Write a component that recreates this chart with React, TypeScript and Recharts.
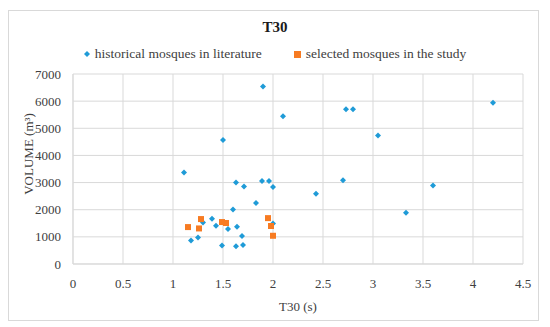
import React from 'react';
import {
  ScatterChart,
  Scatter,
  XAxis,
  YAxis,
  CartesianGrid,
  Label,
} from 'recharts';

// T30 (s) / volume (m³)
const historicalT30 = [
  1.9, 2.1, 1.5, 1.11, 1.63, 1.71, 1.89, 1.96, 2.0, 1.83, 1.6, 1.39, 1.3, 1.43, 1.55, 1.64,
  2.0, 1.69, 1.18, 1.25, 1.49, 1.63, 1.7, 2.73, 2.8, 3.05, 4.2, 2.7, 2.43, 3.6, 3.33,
];
const historicalVolume = [
  6540, 5440, 4570, 3370, 3000, 2855, 3060, 3060, 2840, 2245, 2010, 1665, 1530, 1410, 1290, 1370,
  1490, 1030, 870, 980, 685, 650, 700, 5700, 5700, 4730, 5940, 3090, 2585, 2890, 1890,
];

const selectedT30 = [1.15, 1.28, 1.26, 1.49, 1.53, 1.95, 1.98, 2.0];
const selectedVolume = [1360, 1655, 1310, 1545, 1510, 1690, 1400, 1040];

const xTicks = [0, 0.5, 1, 1.5, 2, 2.5, 3, 3.5, 4, 4.5];
const yTicks = [0, 1000, 2000, 3000, 4000, 5000, 6000, 7000];

const BLUE = '#1F9BD7';
const ORANGE = '#F77B22';
const GRID = '#D9D9D9';
const TEXT = '#404040';
const FONT = '"Liberation Serif", serif';

const historical = historicalT30.map((x, i) => ({ x, y: historicalVolume[i] }));
const selected = selectedT30.map((x, i) => ({ x, y: selectedVolume[i] }));

const Diamond = (props: any) => {
  const { cx, cy } = props;
  const r = 3;
  return (
    <path
      d={`M${cx},${cy - r}L${cx + r},${cy}L${cx},${cy + r}L${cx - r},${cy}Z`}
      fill={BLUE}
    />
  );
};

const Square = (props: any) => {
  const { cx, cy } = props;
  const s = 6;
  return <rect x={cx - s / 2} y={cy - s / 2} width={s} height={s} fill={ORANGE} />;
};

const tickStyle = { fill: TEXT, fontSize: 13, fontFamily: FONT };

// y label sits a bit above the plot's middle, like the original
const YLabel = (props: any) => {
  const { viewBox } = props;
  const x = 28;
  const y = viewBox.y + viewBox.height / 2 - 15;
  return (
    <text
      x={x}
      y={y}
      transform={`rotate(-90, ${x}, ${y})`}
      textAnchor="middle"
      dominantBaseline="central"
      style={{ fill: TEXT, fontSize: 13, fontFamily: FONT }}
    >
      VOLUME (m³)
    </text>
  );
};

export default function App() {
  return (
    <div
      style={{
        position: 'fixed',
        left: 0,
        top: 0,
        width: 550,
        height: 327,
        background: '#fff',
        fontFamily: FONT,
      }}
    >
      <div
        style={{
          position: 'absolute',
          left: 8,
          top: 10,
          width: 531,
          height: 311,
          border: '1px solid #D9D9D9',
          boxSizing: 'border-box',
        }}
      />
      <div
        style={{
          position: 'absolute',
          left: 0,
          top: 19,
          width: 550,
          textAlign: 'center',
          fontWeight: 'bold',
          fontSize: 15,
          color: '#1a1a1a',
        }}
      >
        T30
      </div>
      {/* legend */}
      <div
        style={{
          position: 'absolute',
          left: 0,
          top: 46,
          width: 550,
          display: 'flex',
          justifyContent: 'center',
          fontSize: 13.5,
          color: TEXT,
          gap: 32,
        }}
      >
        <span style={{ display: 'flex', alignItems: 'center', gap: 5 }}>
          <svg width={6} height={6}>
            <path d="M3,0L6,3L3,6L0,3Z" fill={BLUE} />
          </svg>
          historical mosques in literature
        </span>
        <span style={{ display: 'flex', alignItems: 'center', gap: 5 }}>
          <svg width={7} height={7}>
            <rect width={7} height={7} fill={ORANGE} />
          </svg>
          selected mosques in the study
        </span>
      </div>
      <div style={{ position: 'absolute', left: 0, top: 0 }}>
        <ScatterChart
          width={550}
          height={327}
          margin={{ top: 74, right: 27, bottom: 0, left: 10 }}
        >
          <CartesianGrid stroke={GRID} />
          <XAxis
            type="number"
            dataKey="x"
            domain={[0, 4.5]}
            ticks={xTicks}
            interval={0}
            tickLine={false}
            axisLine={{ stroke: GRID }}
            tickMargin={9}
            tick={tickStyle}
            height={63}
          >
            <Label
              value="T30 (s)"
              position="insideBottom"
              offset={16}
              style={{ fill: TEXT, fontSize: 13, fontFamily: FONT }}
            />
          </XAxis>
          <YAxis
            type="number"
            dataKey="y"
            domain={[0, 7000]}
            ticks={yTicks}
            interval={0}
            tickLine={false}
            axisLine={{ stroke: GRID }}
            tickMargin={6}
            tick={tickStyle}
            width={63}
          >
            <Label content={<YLabel />} />
          </YAxis>
          <Scatter
            name="historical mosques in literature"
            data={historical}
            shape={<Diamond />}
            isAnimationActive={false}
          />
          <Scatter
            name="selected mosques in the study"
            data={selected}
            shape={<Square />}
            isAnimationActive={false}
          />
        </ScatterChart>
      </div>
    </div>
  );
}
